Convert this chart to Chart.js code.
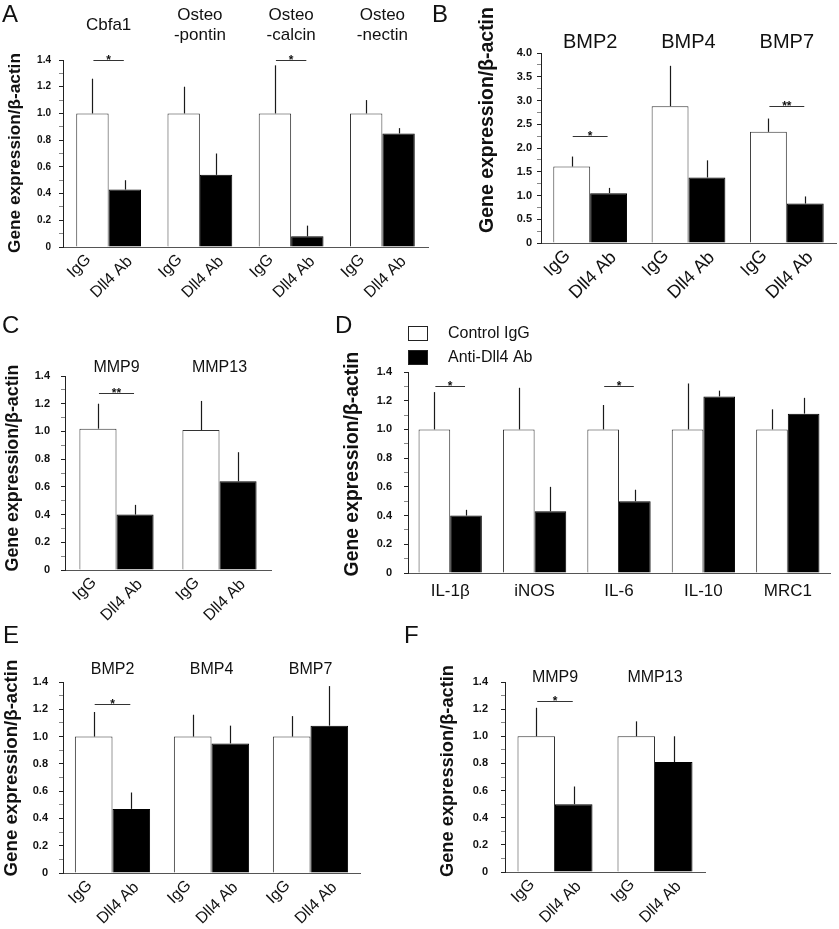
<!DOCTYPE html>
<html>
<head>
<meta charset="utf-8">
<script src="https://cdn.jsdelivr.net/npm/chart.js@4.4.0/dist/chart.umd.min.js"></script>
<style>
html, body { margin: 0; padding: 0; background: #fff; }
#wrap { position: relative; width: 839px; height: 929px; overflow: hidden; }
#wrap canvas { position: absolute; left: 0; top: 0; }
</style>
</head>
<body>
<div id="wrap">
  <canvas id="chartA" width="839" height="929"></canvas>
  <canvas id="chartB" width="839" height="929"></canvas>
  <canvas id="chartC" width="839" height="929"></canvas>
  <canvas id="chartD" width="839" height="929"></canvas>
  <canvas id="chartE" width="839" height="929"></canvas>
  <canvas id="chartF" width="839" height="929"></canvas>
</div>
<script>
// data
const groupNames = ['Control IgG', 'Anti-Dll4 Ab'];
const barNames = ['IgG', 'Dll4 Ab'];
const yTitle = 'Gene expression/β-actin';

// A - osteogenic markers
const aGenes = ['Cbfa1', ['Osteo', '-pontin'], ['Osteo', '-calcin'], ['Osteo', '-nectin']];
const aIgG = [1.0, 1.0, 1.0, 1.0];
const aIgGErr = [0.26, 0.20, 0.36, 0.10];
const aDll4 = [0.43, 0.54, 0.08, 0.85];
const aDll4Err = [0.07, 0.16, 0.08, 0.04];
const aSig = [[0, 1.4, '*'], [2, 1.4, '*']];

// B - BMPs
const bGenes = ['BMP2', 'BMP4', 'BMP7'];
const bIgG = [1.61, 2.88, 2.34];
const bIgGErr = [0.21, 0.85, 0.28];
const bDll4 = [1.05, 1.38, 0.83];
const bDll4Err = [0.11, 0.36, 0.15];
const bSig = [[0, 2.25, '*'], [2, 2.89, '**']];

// C - MMPs
const cGenes = ['MMP9', 'MMP13'];
const cIgG = [1.02, 1.01];
const cIgGErr = [0.18, 0.21];
const cDll4 = [0.40, 0.64];
const cDll4Err = [0.07, 0.21];
const cSig = [[0, 1.275, '**']];

// D - macrophage markers
const dGenes = ['IL-1β', 'iNOS', 'IL-6', 'IL-10', 'MRC1'];
const dIgG = [1.0, 1.0, 1.0, 1.0, 1.0];
const dIgGErr = [0.26, 0.29, 0.17, 0.32, 0.14];
const dDll4 = [0.40, 0.43, 0.50, 1.23, 1.11];
const dDll4Err = [0.04, 0.17, 0.08, 0.04, 0.11];
const dSig = [[0, 1.30, '*'], [2, 1.30, '*']];

// E - BMPs
const eGenes = ['BMP2', 'BMP4', 'BMP7'];
const eIgG = [1.0, 1.0, 1.0];
const eIgGErr = [0.18, 0.16, 0.15];
const eDll4 = [0.47, 0.95, 1.08];
const eDll4Err = [0.12, 0.13, 0.29];
const eSig = [[0, 1.242, '*']];

// F - MMPs
const fGenes = ['MMP9', 'MMP13'];
const fIgG = [1.0, 1.0];
const fIgGErr = [0.21, 0.11];
const fDll4 = [0.50, 0.81];
const fDll4Err = [0.13, 0.19];
const fSig = [[0, 1.26, '*']];

const FONT = "'Liberation Sans', Arial, sans-serif";
const W = 839, H = 929;

const decor = {
  id: 'decor',
  afterDatasetsDraw(chart, args, o) {
    const ctx = chart.ctx;
    const y = chart.scales.y;
    ctx.save();
    ctx.strokeStyle = '#1a1a1a';
    ctx.lineWidth = 1.2;
    o.errors.forEach((errs, d) => {
      const vals = chart.data.datasets[d].data;
      chart.getDatasetMeta(d).data.forEach((bar, i) => {
        const px = Math.round(bar.x) + 0.5;
        ctx.beginPath();
        ctx.moveTo(px, y.getPixelForValue(vals[i]));
        ctx.lineTo(px, y.getPixelForValue(vals[i] + errs[i]));
        ctx.stroke();
      });
    });
    ctx.restore();
  },
  afterDraw(chart, args, o) {
    const ctx = chart.ctx;
    const a = chart.chartArea;
    const x = chart.scales.x, y = chart.scales.y;
    const m0 = chart.getDatasetMeta(0), m1 = chart.getDatasetMeta(1);
    ctx.save();
    ctx.fillStyle = '#111';

    // panel letter
    ctx.font = '24px ' + FONT;
    ctx.textAlign = 'left';
    ctx.textBaseline = 'alphabetic';
    ctx.fillText(o.letter[0], o.letter[1], o.letter[2]);

    // y title, scaled to the length seen in the figure
    ctx.font = 'bold 16px ' + FONT;
    const fs = 16 * o.yTitle[2] / ctx.measureText(yTitle).width;
    ctx.font = 'bold ' + fs.toFixed(2) + 'px ' + FONT;
    ctx.save();
    ctx.translate(o.yTitle[0], o.yTitle[1]);
    ctx.rotate(-Math.PI / 2);
    ctx.textAlign = 'center';
    ctx.textBaseline = 'middle';
    ctx.fillText(yTitle, 0, 0);
    ctx.restore();

    // gene names above the groups
    if (o.genes) {
      ctx.font = o.genes.size + 'px ' + FONT;
      ctx.textAlign = 'center';
      ctx.textBaseline = 'middle';
      chart.data.labels.forEach((lab, i) => {
        const lines = [].concat(lab);
        const cx = x.getPixelForValue(i);
        lines.forEach((t, k) => {
          ctx.fillText(t, cx, o.genes.y + (k - (lines.length - 1) / 2) * o.genes.lh);
        });
      });
    }

    // rotated bar labels
    if (o.rot) {
      ctx.font = o.rot.size + 'px ' + FONT;
      ctx.textAlign = 'right';
      ctx.textBaseline = 'middle';
      [m0, m1].forEach((meta, d) => {
        meta.data.forEach(bar => {
          ctx.save();
          ctx.translate(bar.x + o.rot.dx[d], a.bottom + o.rot.dy[d]);
          ctx.rotate(-Math.PI / 4);
          ctx.fillText(barNames[d], 0, 0);
          ctx.restore();
        });
      });
    }

    // significance bars
    o.sig.forEach(([i, v, mark]) => {
      const x0 = m0.data[i].x + 1, x1 = m1.data[i].x - 1;
      const py = Math.round(y.getPixelForValue(v)) + 0.5;
      ctx.strokeStyle = '#333';
      ctx.lineWidth = 1;
      ctx.beginPath();
      ctx.moveTo(x0, py);
      ctx.lineTo(x1, py);
      ctx.stroke();
      ctx.font = 'bold 12px ' + FONT;
      ctx.textAlign = 'center';
      ctx.textBaseline = 'alphabetic';
      ctx.fillText(mark, (x0 + x1) / 2, py + 3);
    });

    // legend (panel D)
    if (o.legend) {
      const L = o.legend;
      chart.data.datasets.forEach((ds, d) => {
        const ty = L.y[d];
        ctx.fillStyle = ds.backgroundColor;
        ctx.fillRect(L.x, ty, L.w, L.h);
        ctx.strokeStyle = '#222';
        ctx.lineWidth = 1;
        ctx.strokeRect(L.x + 0.5, ty + 0.5, L.w - 1, L.h - 1);
        ctx.fillStyle = '#111';
        ctx.font = '16px ' + FONT;
        ctx.textAlign = 'left';
        ctx.textBaseline = 'middle';
        ctx.fillText(ds.label, L.tx, ty + L.h / 2);
      });
    }
    ctx.restore();
  }
};

function panel(id, genes, igg, iggErr, dll4, dll4Err, sig, p) {
  const labelEvery = p.max > 2 ? 4 : 10;
  new Chart(document.getElementById(id), {
    type: 'bar',
    data: {
      labels: genes,
      datasets: [
        { label: groupNames[0], data: igg, backgroundColor: '#ffffff', borderColor: '#333', borderWidth: 1 },
        { label: groupNames[1], data: dll4, backgroundColor: '#000000', borderColor: '#000', borderWidth: 1 }
      ]
    },
    options: {
      responsive: false,
      animation: false,
      events: [],
      layout: { padding: { left: p.left - 40, top: p.top, right: W - p.right, bottom: H - p.bottom - 30 } },
      datasets: { bar: { categoryPercentage: p.cat, barPercentage: 1 } },
      plugins: {
        legend: { display: false },
        tooltip: { enabled: false },
        decor: {
          errors: [iggErr, dll4Err],
          sig: sig,
          letter: p.letter,
          yTitle: p.yTitle,
          genes: p.genes,
          rot: p.rot,
          legend: p.legend
        }
      },
      scales: {
        x: {
          grid: { display: false, drawTicks: false },
          border: { color: '#555', width: 1 },
          ticks: {
            display: !!p.xTicks,
            autoSkip: false,
            maxRotation: 0,
            padding: 8,
            color: '#111',
            font: { family: FONT, size: 17 }
          },
          afterFit(s) { s.height = 30; }
        },
        y: {
          min: 0,
          max: p.max,
          border: { color: '#222', width: 1 },
          grid: {
            drawOnChartArea: false,
            tickLength: 4,
            color: c => (Math.round(c.tick.value * labelEvery) % 2 ? '#888' : '#222')
          },
          ticks: {
            stepSize: p.step,
            autoSkip: false,
            padding: p.tickPad,
            color: '#111',
            font: { family: FONT, size: p.tickSize, weight: 'bold' },
            callback: v => {
              if (Math.round(v * labelEvery) % 2) return '';
              return v === 0 ? '0' : v.toFixed(1);
            }
          },
          afterFit(s) { s.width = 40; }
        }
      }
    },
    plugins: [decor]
  });
}

panel('chartA', aGenes, aIgG, aIgGErr, aDll4, aDll4Err, aSig, {
  left: 63, top: 60, right: 428, bottom: 247, max: 1.4, step: 0.1, cat: 0.71, tickPad: 8, tickSize: 10,
  letter: ['A', 2, 22], yTitle: [15, 153, 200],
  genes: { y: 25, lh: 20, size: 17 },
  rot: { size: 16, dx: [-4, 5], dy: [10, 12] }
});
panel('chartB', bGenes, bIgG, bIgGErr, bDll4, bDll4Err, bSig, {
  left: 541, top: 53, right: 836, bottom: 243, max: 4, step: 0.25, cat: 0.75, tickPad: 5, tickSize: 11,
  letter: ['B', 432, 22], yTitle: [488, 120, 226],
  genes: { y: 42, lh: 20, size: 20 },
  rot: { size: 18, dx: [-4, 5], dy: [10, 12] }
});
panel('chartC', cGenes, cIgG, cIgGErr, cDll4, cDll4Err, cSig, {
  left: 65, top: 376, right: 271, bottom: 570, max: 1.4, step: 0.1, cat: 0.72, tickPad: 11, tickSize: 11,
  letter: ['C', 2, 333], yTitle: [13, 468, 207],
  genes: { y: 368, lh: 20, size: 16 },
  rot: { size: 16, dx: [-4, 5], dy: [10, 12] }
});
panel('chartD', dGenes, dIgG, dIgGErr, dDll4, dDll4Err, dSig, {
  left: 408, top: 372, right: 830, bottom: 573, max: 1.4, step: 0.1, cat: 0.75, tickPad: 12, tickSize: 11,
  letter: ['D', 335, 333], yTitle: [353, 464, 225],
  xTicks: true,
  legend: { x: 408, y: [326, 350], w: 20, h: 15, tx: 448 }
});
panel('chartE', eGenes, eIgG, eIgGErr, eDll4, eDll4Err, eSig, {
  left: 63, top: 682, right: 360, bottom: 873, max: 1.4, step: 0.1, cat: 0.76, tickPad: 11, tickSize: 11,
  letter: ['E', 3, 643], yTitle: [12, 768, 217],
  genes: { y: 670, lh: 20, size: 16 },
  rot: { size: 16, dx: [-4, 5], dy: [10, 12] }
});
panel('chartF', fGenes, fIgG, fIgGErr, fDll4, fDll4Err, fSig, {
  left: 505, top: 682, right: 705, bottom: 872, max: 1.4, step: 0.1, cat: 0.75, tickPad: 13, tickSize: 11,
  letter: ['F', 404, 643], yTitle: [448, 771, 212],
  genes: { y: 678, lh: 20, size: 16 },
  rot: { size: 16, dx: [-4, 5], dy: [10, 12] }
});
</script>
</body>
</html>
